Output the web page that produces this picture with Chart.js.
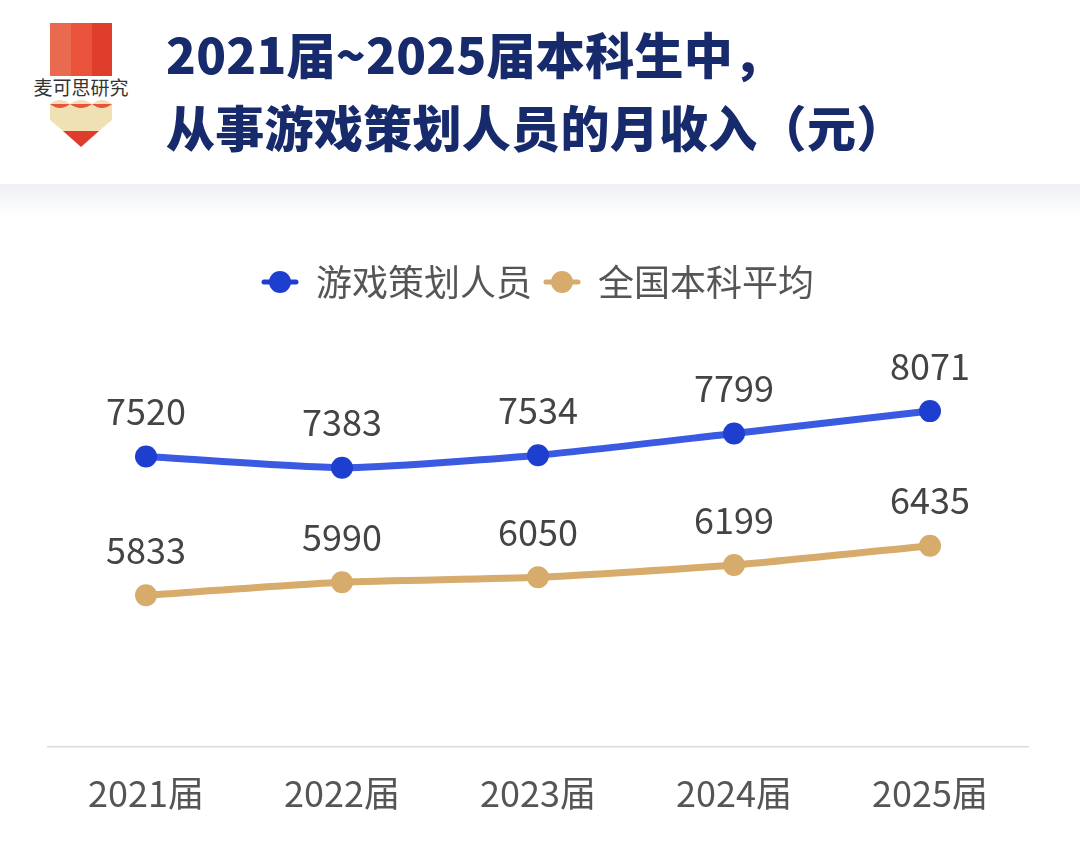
<!DOCTYPE html>
<html>
<head>
<meta charset="utf-8">
<script src="https://cdn.jsdelivr.net/npm/chart.js@4"></script>
<style>
  body { margin: 0; width: 1080px; height: 847px; background: #fff; overflow: hidden; font-family: "Noto Sans CJK SC", "Noto Sans", sans-serif; }
  #logo { position: absolute; left: 28px; top: 20px; }
  #title { position: absolute; left: 166px; top: 16px; color: #172a6b; font-weight: 900; font-size: 49px; line-height: 73px; letter-spacing: 0.3px; white-space: nowrap; }
  #band { position: absolute; left: 0; top: 184px; width: 1080px; height: 34px; background: linear-gradient(#eff0f5, #fff); }
  #wrap { position: absolute; left: 0; top: 210px; width: 1080px; height: 637px; }
</style>
</head>
<body>
<svg id="logo" width="110" height="130" viewBox="0 0 110 130">
  <rect x="22" y="3" width="21" height="53" fill="#ea6a50"/>
  <rect x="43" y="3" width="21" height="53" fill="#e9523b"/>
  <rect x="64" y="3" width="20" height="53" fill="#df3e2c"/>
  <text x="53" y="75" text-anchor="middle" font-size="19" fill="#333" font-family="Noto Sans CJK SC">麦可思研究</text>
  <path d="M22 84 Q32 76 42 84 Q53 76 64 84 Q74 76 84 84 L84 100 L53 126 L22 100 Z" fill="#efe1b4"/>
  <path d="M22 84 Q32 92 42 84 Q53 92 64 84 Q74 92 84 84" fill="#e9523b"/>
  <path d="M35 111 L71 111 L53 127 Z" fill="#e03c2c"/>
</svg>
<div id="title">2021届~2025届本科生中，<br>从事游戏策划人员的月收入（元）</div>
<div id="band"></div>
<div id="wrap"><canvas id="chart"></canvas></div>
<script>
const years = ['2021届', '2022届', '2023届', '2024届', '2025届'];
const gamePlanner = [7520, 7383, 7534, 7799, 8071];
const nationalAvg = [5833, 5990, 6050, 6199, 6435];

const blue = '#1e3ed0';
const blueLine = '#3a5ae2';
const gold = '#d6ab6b';

function legendMarker(color) {
  const c = document.createElement('canvas');
  c.width = 38; c.height = 24;
  const g = c.getContext('2d');
  g.strokeStyle = color;
  g.lineWidth = 5;
  g.lineCap = 'round';
  g.beginPath(); g.moveTo(3, 12); g.lineTo(35, 12); g.stroke();
  g.fillStyle = color;
  g.beginPath(); g.arc(19, 12, 11, 0, Math.PI * 2); g.fill();
  return c;
}

// value labels above each point
const valueLabels = {
  id: 'valueLabels',
  afterDatasetsDraw(chart) {
    const ctx = chart.ctx;
    ctx.save();
    ctx.font = '36px "Noto Sans CJK SC", "Noto Sans", sans-serif';
    ctx.fillStyle = '#444';
    ctx.textAlign = 'center';
    ctx.textBaseline = 'middle';
    chart.data.datasets.forEach((ds, i) => {
      chart.getDatasetMeta(i).data.forEach((pt, j) => {
        ctx.fillText(ds.data[j], pt.x, pt.y - 45);
      });
    });
    ctx.restore();
  }
};

new Chart(document.getElementById('chart'), {
  type: 'line',
  data: {
    labels: years,
    datasets: [
      {
        label: '游戏策划人员',
        data: gamePlanner,
        borderColor: blueLine,
        backgroundColor: blue,
        pointBackgroundColor: blue,
        pointBorderWidth: 0,
        pointRadius: 11,
        borderWidth: 7,
        pointStyle: 'circle',
        tension: 0.2
      },
      {
        label: '全国本科平均',
        data: nationalAvg,
        borderColor: gold,
        backgroundColor: gold,
        pointBackgroundColor: gold,
        pointBorderWidth: 0,
        pointRadius: 11,
        borderWidth: 7,
        pointStyle: 'circle',
        tension: 0.2
      }
    ]
  },
  options: {
    responsive: true,
    maintainAspectRatio: false,
    animation: false,
    layout: { padding: { left: 48, right: 52, top: 42, bottom: 15 } },
    plugins: {
      legend: {
        position: 'top',
        labels: {
          usePointStyle: true,
          generateLabels: chart => chart.data.datasets.map((ds, i) => ({
            text: ds.label,
            pointStyle: legendMarker(ds.backgroundColor),
            fillStyle: ds.backgroundColor,
            strokeStyle: ds.backgroundColor,
            fontColor: '#555',
            lineWidth: 0,
            datasetIndex: i
          })),
          font: { size: 36, family: '"Noto Sans CJK SC", sans-serif' },
          color: '#555',
          padding: 12,
          boxHeight: 36
        }
      },
      tooltip: { enabled: false }
    },
    scales: {
      x: {
        offset: true,
        grid: { display: false },
        border: { display: true, color: '#dcdcdc', width: 1.5 },
        ticks: {
          color: '#555',
          padding: 17,
          font: { size: 36, family: '"Noto Sans CJK SC", sans-serif' }
        }
      },
      y: {
        display: false,
        min: 3990,
        max: 9300
      }
    }
  },
  plugins: [valueLabels]
});
</script>
</body>
</html>
